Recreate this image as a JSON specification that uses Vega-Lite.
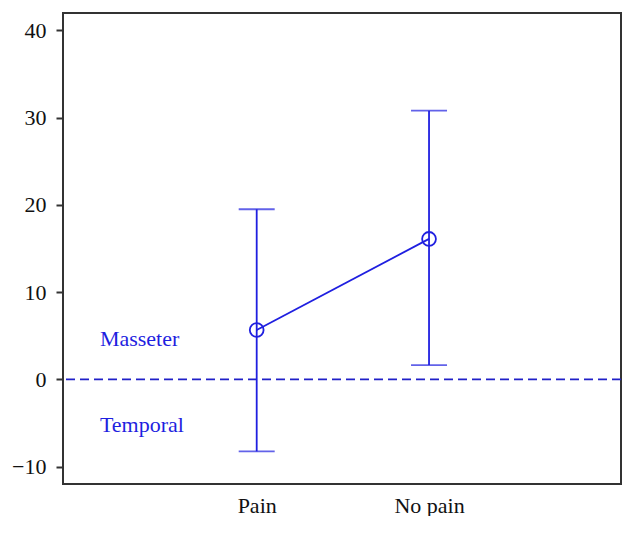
{
  "$schema": "https://vega.github.io/schema/vega-lite/v6.json",
  "width": 558,
  "height": 471,
  "padding": {"left": 0, "top": 13, "right": 15, "bottom": 0},
  "background": "white",
  "config": {
    "view": {"stroke": "#333333", "strokeWidth": 2},
    "axis": {"labelFont": "Liberation Serif", "labelFontSize": 22, "labelColor": "#111111", "grid": false, "title": null}
  },
  "datasets": {
    "stats": [
      {"group": "Pain", "pos": 1, "mean": 5.66, "lower": -8.26, "upper": 19.5},
      {"group": "No pain", "pos": 2, "mean": 16.1, "lower": 1.64, "upper": 30.8}
    ]
  },
  "data": {"name": "stats"},
  "layer": [
    {
      "data": {"values": [{}]},
      "mark": {"type": "rule", "color": "#2020c8", "strokeWidth": 1.6, "strokeDash": [9, 5]},
      "encoding": {"y": {"datum": 0, "type": "quantitative"}}
    },
    {
      "mark": {"type": "rule", "color": "#1f1fe0", "strokeWidth": 1.8},
      "encoding": {
        "x": {
          "field": "pos", "type": "quantitative",
          "scale": {"domain": [-0.124, 3.114], "nice": false, "zero": false},
          "axis": {"values": [1, 2], "labelExpr": "datum.value == 1 ? 'Pain' : 'No pain'", "domain": false, "ticks": false, "labelPadding": 11}
        },
        "y": {
          "field": "lower", "type": "quantitative",
          "scale": {"domain": [-12, 42], "nice": false, "zero": false},
          "axis": {"values": [-10, 0, 10, 20, 30, 40], "domain": false, "tickSize": 7, "tickWidth": 2, "tickColor": "#333333", "labelPadding": 10, "minExtent": 63, "maxExtent": 63}
        },
        "y2": {"field": "upper"}
      }
    },
    {
      "mark": {"type": "tick", "orient": "horizontal", "color": "#1f1fe0", "size": 36, "thickness": 1.8},
      "encoding": {"x": {"field": "pos", "type": "quantitative"}, "y": {"field": "upper", "type": "quantitative"}}
    },
    {
      "mark": {"type": "tick", "orient": "horizontal", "color": "#1f1fe0", "size": 36, "thickness": 1.8},
      "encoding": {"x": {"field": "pos", "type": "quantitative"}, "y": {"field": "lower", "type": "quantitative"}}
    },
    {
      "mark": {"type": "line", "color": "#1f1fe0", "strokeWidth": 1.8},
      "encoding": {"x": {"field": "pos", "type": "quantitative"}, "y": {"field": "mean", "type": "quantitative"}}
    },
    {
      "mark": {"type": "point", "shape": "circle", "filled": false, "color": "#1f1fe0", "size": 190, "strokeWidth": 1.8, "opacity": 1},
      "encoding": {"x": {"field": "pos", "type": "quantitative"}, "y": {"field": "mean", "type": "quantitative"}}
    },
    {
      "transform": [{"filter": "datum.pos == 1"}],
      "mark": {"type": "text", "font": "Liberation Serif", "fontSize": 22, "fill": "#1f1fe0", "align": "left", "baseline": "middle", "text": "Masseter"},
      "encoding": {"x": {"datum": 0.09, "type": "quantitative"}, "y": {"datum": 4.6, "type": "quantitative"}}
    },
    {
      "transform": [{"filter": "datum.pos == 1"}],
      "mark": {"type": "text", "font": "Liberation Serif", "fontSize": 22, "fill": "#1f1fe0", "align": "left", "baseline": "middle", "text": "Temporal"},
      "encoding": {"x": {"datum": 0.09, "type": "quantitative"}, "y": {"datum": -5.2, "type": "quantitative"}}
    }
  ]
}
